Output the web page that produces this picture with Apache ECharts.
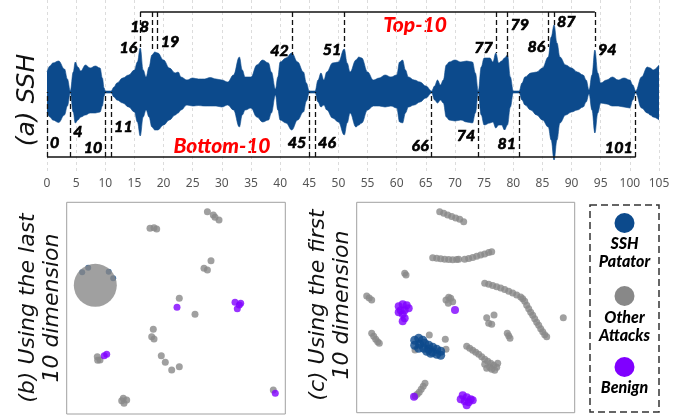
<!DOCTYPE html>
<html><head><meta charset="utf-8">
<script src="https://cdn.jsdelivr.net/npm/echarts@6/dist/echarts.min.js"></script>
<style>html,body{margin:0;padding:0;background:#fff}#c{width:679px;height:416px}</style>
</head><body><div id="c"></div>
<script>
// ---- Panel (a): SSH envelope (position index, upper / lower amplitude) ----
const xs = [0,0.5,1,2,3,3.5,4,4.5,4.85,5.3,5.8,6.6,7.4,8.3,9.1,9.5,9.8,10,11,11.5,12,13,14,15,15.5,16,16.5,17,17.5,18,18.5,19,20,21,22,22.5,23,24,25,26,27,28,29,30,31,32,33,33.5,34,35,36,37,38,38.5,39.2,39.6,40,41,42,43,44,44.5,45,46,46.5,47,47.5,48,49,50,51,51.5,52,53,53.5,54,55,56,57,58,59,60,60.5,61,61.5,62,63,64,65,66,66.5,67,67.5,68,68.5,69,70,71,72,73,73.5,74,74.5,75,76,76.5,77,77.5,78,78.5,79,79.5,80,81,81.5,82,83,84,85,86,86.5,87,87.5,88,89,90,91,92,92.5,93,93.5,94,94.5,95,96,97,98,99,100,100.5,101,102,103,103.5,104,105];
const upper = [20,26,29,31,23,13,1,20,30,25,21,27,24,26,24,14,4,1,1,5,9,14,17,22,30,44,22,15,25,37,40,39,32,24,19,20,15,12,14,13,13,14.5,13,12,10,17,35,22,15,15,27,32,29,20,3,15,30,34,39,30,20,9,1,1,12,19,12,20,29,30,43,29,20,32,35,34,20,12,14,17,15,17,30,32,22,15,12,10,6,1,6,12,7,12,27,30,32,30,31,30,19,1,25,34,34,30,39,29,31,34,37,15,1,1,9,15,19,20,24,35,55,67,49,35,27,24,20,17,12,2,17,42,19,9,12,15,12,14,12,7,1,15,25,24,22,27];
const lower = [-20,-25,-28,-30.5,-23,-14,-1,-20,-31,-28,-25,-23,-21,-21,-20,-14,-4,-1,-1,-5,-8,-11,-15,-20,-30,-44,-25,-18,-25,-35,-38,-38,-33,-28,-23,-21,-18,-13,-14,-13.5,-14,-14,-14,-15,-13,-18,-35,-23,-18,-16,-25,-30,-28,-21,-3,-18,-28,-31,-38,-28,-20,-9,-1,-1,-10,-15,-13,-18,-26,-30,-43,-31,-21,-35,-33,-31,-18,-14,-14,-15,-14,-16,-30,-31,-21,-15,-13,-10,-6,-1,-8,-11,-8,-11,-25,-28,-29,-28,-30,-31,-21,-1,-23,-33,-31,-30,-36,-33,-33,-38,-33,-15,-1,-1,-8,-13,-18,-23,-28,-35,-48,-68,-48,-31,-23,-20,-18,-15,-10,-2,-18,-41,-21,-11,-12,-14,-14,-15,-16,-8,-1,-16,-21,-23,-25,-28];
const xTicks = [0,5,10,15,20,25,30,35,40,45,50,55,60,65,70,75,80,85,90,95,100,105];

// annotations
const topIdx = [16,18,19,42,51,77,79,86,87,94];
const topLineEnd = [45,40,40,37,45,39,35,45,67,45];
const topLabelY = [44,65,50,41,42,44,67,45,70,42];
const topLabelSide = ['left','left','right','left','left','left','right','left','right','right'];
const bottomIdx = [0,4,10,11,45,46,66,74,81,101];
const bottomLabelY = [-51,-40,-56,-35,-51,-51,-54,-44,-52,-56];
const bottomLabelSide = ['right','right','left','right','left','right','left','left','left','left'];
const bracketTopY = 80, bracketBottomY = -65;

// ---- Panel (b): using the last 10 dimension ----
const bOther = [[83.3,26],[87.3,25.4],[90,26.7],[140.7,9.4],[146.6,12.7],[148.3,15],[152.3,17.7],[144.3,58.4],[137.3,66],[140.7,67.7],[112.6,96],[128.3,112],[86.6,127],[85,134.4],[87.3,136.7],[94.6,153.4],[98.6,160],[105,167.7],[112.6,164.4],[30.6,154.4],[33.3,157.7],[31,158],[56.6,196],[60,197.7],[57.3,201],[55,198.4],[206.6,187.7]];
const bOtherDisk = [[28.6,83]];
const bSSH = [[15.5,70],[21.5,65.5],[42,69.5],[46.5,76]];
const bBenign = [[110.3,105],[168.3,100],[172.6,102.7],[170.6,106.4],[174,101],[37.5,153.5],[40,152],[208.6,191]];

// ---- Panel (c): using the first 10 dimension ----
const cOther = [[83,9.4],[87,11],[91,12.8],[95,14.3],[99,15.6],[103,17],[107,19.4],
 [76,55.4],[80,56],[84,56.5],[88,57],[92,57.2],[96,57.4],[100,57.2],[102,57],
 [108,57],[112,56.3],[116,55.2],[120,54],[124,52.8],[128,51.6],[132,50.3],[135,49.4],
 [128,81],[132,82],[136,83.3],[140,84.5],[144,85.7],[148,87.3],[152,89],[156,90.7],[160,92.7],[164,94.8],[166,96.5],
 [168,99],[170,103],[172,106.5],[174,110],[176,113],[178,116.5],[180,120],[182,123],[184,126.5],[186,129.5],[188,132.5],[190,134.5],
 [49.3,72.7],[48,71],[10,93.7],[12.5,95.7],[15,97.7],[15,131],[17,134],[19,137],[21,139.5],[22.6,141],
 [89.3,97.7],[94,96],[91.6,101],[96,99.4],[92,95],
 [130,115.4],[137.3,112.7],[135,122],[132,121],[206.6,115.4],[150.6,131],[152,133.5],[153.3,136],
 [72.6,132.7],[58.3,147.7],[89.3,147],[88.6,137],
 [110,144],[113,146],[116,148],[119,150],[122,152],[125,154.5],[128,157],[131,159],[134,161],[137,163],[140,165],[138,168],[133,165],[128,162],[130,166],[135,167],[141,161],
 [68.3,181],[66.5,184],[64.5,187],[62.5,190],[60.5,192],[58.5,193.7]];
const cSSH = [[58,138],[62,136],[66,138],[58,143],[63,142],[68,141],[72,143],[62,146],[67,146],[72,147],[76,145],[80,147],[84,149],[76,150],[80,152],[84,153],[74,151],[70,149]];
const cBenign = [[42,104],[46,102],[50,103],[44,108],[48,108],[42,110],[46,112],[48,116],[46,119],[52,106],[98.3,107.7],[57.3,194.4],
 [106,193],[110,195],[114,197],[108,199],[112,200],[110,203],[104,197],[116,198]];

const legendNames = ['SSH\nPatator','Other\nAttacks','Benign'];

const BLUE = '#0c4a8c', GRAY = '#888888', PURPLE = '#8000ff';
const numFont = {fontFamily:'Lato', fontStyle:'italic', fontWeight:'bold', fontSize:16, color:'#000', textBorderColor:'#000', textBorderWidth:0.7, opacity:1};
const legFont = 'italic 900 16px Lato';

const chart = echarts.init(document.getElementById('c'), null, {renderer:'canvas'});

const env = (ys) => xs.map((x,i)=>[x, ys[i]]);
const dashLines = [];
topIdx.forEach((t,i)=>dashLines.push([{coord:[t,bracketTopY]},{coord:[t,topLineEnd[i]]}]));
bottomIdx.forEach((t)=>dashLines.push([{coord:[t,bracketBottomY]},{coord:[t,0]}]));
const bracketLines = [
  [{coord:[topIdx[0],bracketTopY]},{coord:[topIdx[topIdx.length-1],bracketTopY]}],
  [{coord:[bottomIdx[0],bracketBottomY]},{coord:[bottomIdx[bottomIdx.length-1],bracketBottomY]}]
];
const labelData = [];
topIdx.forEach((t,i)=>labelData.push({value:[t,topLabelY[i],String(t)],label:{position:topLabelSide[i]}}));
bottomIdx.forEach((t,i)=>labelData.push({value:[t,bottomLabelY[i],String(t)],label:{position:bottomLabelSide[i]}}));

const hiddenAxis = (gi, max, inverse) => ({gridIndex:gi, type:'value', min:0, max:max, inverse:!!inverse, show:false});

chart.setOption({
  animation:false,
  grid:[
    {left:47, top:0, width:612, height:172, show:false},
    {left:66.7, top:202.3, width:218.6, height:211.7, show:true, borderColor:'#a0a0a0', borderWidth:1},
    {left:356.7, top:202.3, width:218, height:210.4, show:true, borderColor:'#a0a0a0', borderWidth:1}
  ],
  xAxis:[
    {gridIndex:0, type:'value', min:0, max:105, interval:5,
     axisLine:{lineStyle:{color:'#aaa'}}, axisTick:{show:false},
     axisLabel:{color:'#555', fontSize:12, margin:6, fontFamily:'Noto Sans', customValues:xTicks},
     splitLine:{show:true, lineStyle:{color:'#dcdcdc', type:[3,3]}}},
    hiddenAxis(1,218.6), hiddenAxis(2,218)
  ],
  yAxis:[
    {gridIndex:0, type:'value', min:-80, max:92, show:false, splitLine:{show:false}},
    hiddenAxis(1,211.7,true), hiddenAxis(2,210.4,true)
  ],
  series:[
    {type:'line', xAxisIndex:0, yAxisIndex:0, data:env(upper), smooth:0.4, smoothMonotone:'x', symbol:'none',
     lineStyle:{color:BLUE, width:0.6}, areaStyle:{color:BLUE, opacity:1, origin:0}, z:2,
     markLine:{silent:true, symbol:'none', label:{show:false}, z:5,
       lineStyle:{color:'#111', type:[5,3], width:1.3}, data:dashLines}},
    {type:'line', xAxisIndex:0, yAxisIndex:0, data:env(lower), smooth:0.4, smoothMonotone:'x', symbol:'none',
     lineStyle:{color:BLUE, width:0.6}, areaStyle:{color:BLUE, opacity:1, origin:0}, z:2,
     markLine:{silent:true, symbol:'none', label:{show:false}, z:5,
       lineStyle:{color:'#111', type:'solid', width:1.5}, data:bracketLines}},
    {type:'scatter', xAxisIndex:0, yAxisIndex:0, data:labelData, symbolSize:0, itemStyle:{color:'#000'}, z:6, silent:true,
     label:{show:true, distance:3, formatter:(p)=>p.value[2], ...numFont}},
    // panel b
    {type:'scatter', xAxisIndex:1, yAxisIndex:1, data:bSSH, symbolSize:6, itemStyle:{color:BLUE}, z:2},
    {type:'scatter', xAxisIndex:1, yAxisIndex:1, data:bOtherDisk, symbolSize:43, itemStyle:{color:GRAY}, z:3},
    {type:'scatter', xAxisIndex:1, yAxisIndex:1, data:bOther, symbolSize:7, itemStyle:{color:GRAY}, z:3},
    {type:'scatter', xAxisIndex:1, yAxisIndex:1, data:bBenign, symbolSize:7, itemStyle:{color:PURPLE}, z:4},
    // panel c
    {type:'scatter', xAxisIndex:2, yAxisIndex:2, data:cOther, symbolSize:7, itemStyle:{color:GRAY}, z:3},
    {type:'scatter', xAxisIndex:2, yAxisIndex:2, data:cSSH, symbolSize:9, itemStyle:{color:BLUE}, z:4},
    {type:'scatter', xAxisIndex:2, yAxisIndex:2, data:cBenign, symbolSize:8, itemStyle:{color:PURPLE}, z:4}
  ],
  graphic:[
    {type:'text', x:27, y:100, rotation:Math.PI/2, style:{text:'(a) SSH', font:'italic 25px "DejaVu Sans"', fill:'#111', align:'center', verticalAlign:'middle'}},
    {type:'text', x:415, y:25, style:{text:'Top-10', font:'italic 900 21px Lato', fill:'#ff0000', align:'center', verticalAlign:'middle'}},
    {type:'text', x:222, y:146, style:{text:'Bottom-10', font:'italic 900 21px Lato', fill:'#ff0000', align:'center', verticalAlign:'middle'}},
    {type:'text', x:40, y:308, rotation:Math.PI/2, style:{text:'(b) Using the last\n10 dimension', font:'italic 22px "DejaVu Sans"', lineHeight:24, fill:'#111', align:'center', verticalAlign:'middle'}},
    {type:'text', x:330, y:305, rotation:Math.PI/2, style:{text:'(c) Using the first\n10 dimension', font:'italic 22px "DejaVu Sans"', lineHeight:24, fill:'#111', align:'center', verticalAlign:'middle'}},
    {type:'rect', shape:{x:590, y:205, width:69, height:207}, style:{fill:'none', stroke:'#333', lineWidth:1.5, lineDash:[7,4]}},
    {type:'circle', shape:{cx:624.5, cy:223, r:10}, style:{fill:BLUE}},
    {type:'circle', shape:{cx:624.5, cy:296, r:10}, style:{fill:GRAY}},
    {type:'circle', shape:{cx:624.5, cy:367, r:10}, style:{fill:PURPLE}},
    {type:'text', x:624.5, y:253, style:{text:legendNames[0], font:legFont, lineHeight:18, fill:'#000', align:'center', verticalAlign:'middle'}},
    {type:'text', x:624.5, y:327, style:{text:legendNames[1], font:legFont, lineHeight:18, fill:'#000', align:'center', verticalAlign:'middle'}},
    {type:'text', x:624.5, y:388, style:{text:legendNames[2], font:legFont, lineHeight:18, fill:'#000', align:'center', verticalAlign:'middle'}}
  ]
});
</script></body></html>
